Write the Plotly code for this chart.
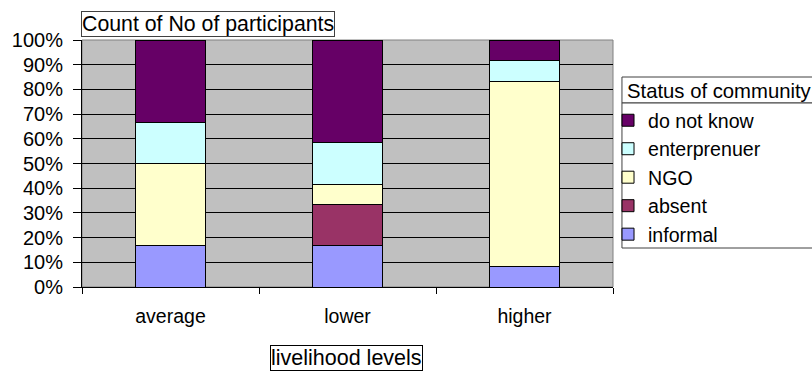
import plotly.graph_objects as go

# Participant counts per livelihood level, split by status of community
levels = ["average", "lower", "higher"]
informal = [1, 2, 1]
absent = [0, 2, 0]
ngo = [2, 1, 9]
enterprenuer = [1, 2, 1]
do_not_know = [2, 5, 1]

series = [
    ("informal", informal, "#9999FF"),
    ("absent", absent, "#993366"),
    ("NGO", ngo, "#FFFFCC"),
    ("enterprenuer", enterprenuer, "#CCFFFF"),
    ("do not know", do_not_know, "#660066"),
]

y_ticks = list(range(0, 101, 10))
y_tick_labels = [f"{v}%" for v in y_ticks]

W, H = 812, 371
L, R, T, B = 80, 613, 40, 287
FONT = "Liberation Sans, Arial, sans-serif"


def px(x):
    return (x - L) / (R - L)


def py(y):
    return (B - y) / (B - T)


fig = go.Figure()
for name, vals, color in series:
    fig.add_trace(go.Bar(
        x=levels, y=vals, name=name,
        marker=dict(color=color, line=dict(color="black", width=1)),
    ))

fig.update_layout(
    width=W, height=H,
    margin=dict(l=L, r=W - R, t=T, b=H - B, pad=0),
    barmode="stack", barnorm="percent", bargap=0.6,
    plot_bgcolor="#C0C0C0", paper_bgcolor="white",
    font=dict(family=FONT, size=20, color="black"),
    showlegend=True,
    legend=dict(
        x=px(608), y=py(101), xanchor="left", yanchor="top",
        bgcolor="rgba(0,0,0,0)", borderwidth=0,
        traceorder="reversed", font=dict(size=19.6),
    ),
    xaxis=dict(
        showline=True, linecolor="black", linewidth=1,
        ticks="outside", ticklen=6, tickcolor="black", tickson="boundaries",
        showgrid=False, ticklabelstandoff=12, tickfont=dict(size=19.5),
    ),
    yaxis=dict(
        range=[0, 100], tickmode="array", tickvals=y_ticks, ticktext=y_tick_labels,
        showline=True, linecolor="black", linewidth=1,
        ticks="outside", ticklen=8, tickcolor="black",
        showgrid=True, gridcolor="black", gridwidth=1,
        zeroline=False, ticklabelstandoff=6, tickfont=dict(size=20),
    ),
    shapes=[
        # plot-area frame
        dict(type="rect", xref="paper", yref="paper", x0=0, x1=1, y0=0, y1=1,
             line=dict(color="#808080", width=1), layer="below"),
        # legend title box
        dict(type="rect", xref="paper", yref="paper",
             x0=px(622), x1=px(840), y0=py(103), y1=py(77),
             line=dict(color="#404040", width=1), fillcolor="white", layer="below"),
        # legend box
        dict(type="rect", xref="paper", yref="paper",
             x0=px(622), x1=px(840), y0=py(248), y1=py(103),
             line=dict(color="#404040", width=1), fillcolor="white", layer="below"),
    ],
    annotations=[
        dict(text="Count of No of participants", xref="paper", yref="paper",
             x=px(79), y=py(37), xanchor="left", yanchor="bottom", showarrow=False,
             bordercolor="#404040", borderwidth=1, borderpad=0, bgcolor="white",
             font=dict(size=21.3)),
        dict(text="livelihood levels", xref="paper", yref="paper",
             x=px(345.5), y=py(358), xanchor="center", yanchor="middle", showarrow=False,
             bordercolor="black", borderwidth=1, borderpad=0, bgcolor="white",
             font=dict(size=21.5)),
        dict(text="Status of community", xref="paper", yref="paper",
             x=px(625), y=py(90.5), xanchor="left", yanchor="middle", showarrow=False,
             font=dict(size=20.3)),
    ],
)

fig.write_html("out.html")
